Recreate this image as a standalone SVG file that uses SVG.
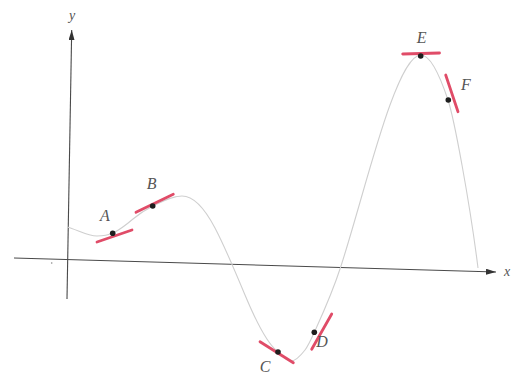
<svg xmlns="http://www.w3.org/2000/svg" width="516" height="380" viewBox="0 0 516 380">
  <style>
    .axis { stroke: #4a4a4a; stroke-width: 1.1; fill: none; }
    .curve { stroke: #cfcfcf; stroke-width: 1.1; fill: none; }
    .tan { stroke: #e04c68; stroke-width: 2.8; stroke-linecap: round; }
    .dot { fill: #1e1e1e; }
    .lbl { font-family: "Liberation Serif", "DejaVu Serif", serif; font-style: italic; font-size: 16px; fill: #555; text-anchor: middle; }
    .albl { font-family: "Liberation Serif", "DejaVu Serif", serif; font-style: italic; font-size: 14px; fill: #555; text-anchor: middle; }
  </style>
  <defs>
    <marker id="arr" markerWidth="10" markerHeight="6" refX="10" refY="3" orient="auto" markerUnits="userSpaceOnUse">
      <path d="M0,0 L10,3 L0,6 Z" fill="#333"/>
    </marker>
  </defs>
  <rect width="516" height="380" fill="#ffffff"/>

  <g id="connectors">
    <line class="axis" x1="14" y1="258" x2="496" y2="272" marker-end="url(#arr)"/>
    <line class="axis" x1="67" y1="299" x2="71.7" y2="30" marker-end="url(#arr)"/>
    <path class="curve" d="M67,227 C77,229.5 87,236 97,236 C102.3,236 107.7,235.4 113,233 C119.7,230 126.3,224.7 133,219 C139.7,213.3 146.3,209.3 153,206 C162.7,201.2 172.3,196 182,196 C193,196 204,207.1 215,228 C225,247 235,271 245,295 C255.7,320.6 266.3,342.5 277,351 C281.7,354.7 286.3,361 291,361 C295.7,361 300.3,356.1 305,350 C308,346.1 311,339.6 314,333 C323,313.2 332,293.9 341,266 C357.3,215.4 373.7,149.1 390,105 C400.3,77.1 410.7,55 421,55 C430,55 439,73 448,100 C452.7,114 457.3,139.3 462,165 C467.3,194.3 472.7,225.3 478,268"/>
  </g>

  <g id="axis-labels">
    <text class="albl" x="72" y="20">y</text>
    <text class="albl" x="507" y="276">x</text>
    <circle cx="51.7" cy="263" r="0.8" fill="#888"/>
  </g>

  <g id="A">
    <line class="tan" x1="97" y1="242" x2="132" y2="230"/>
    <circle class="dot" cx="112.7" cy="233.3" r="2.8"/>
    <text class="lbl" x="105" y="221">A</text>
  </g>
  <g id="B">
    <line class="tan" x1="136" y1="212.3" x2="173.3" y2="194.3"/>
    <circle class="dot" cx="152.7" cy="206" r="2.8"/>
    <text class="lbl" x="151.7" y="189">B</text>
  </g>
  <g id="C">
    <line class="tan" x1="260" y1="341.7" x2="293.3" y2="362.7"/>
    <circle class="dot" cx="278" cy="352" r="2.8"/>
    <text class="lbl" x="265" y="372">C</text>
  </g>
  <g id="D">
    <line class="tan" x1="311.7" y1="349.3" x2="331.7" y2="314"/>
    <circle class="dot" cx="314.3" cy="332.3" r="2.8"/>
    <text class="lbl" x="322" y="347">D</text>
  </g>
  <g id="E">
    <line class="tan" x1="402.7" y1="54" x2="439.5" y2="53"/>
    <circle class="dot" cx="420.7" cy="56" r="2.8"/>
    <text class="lbl" x="421.7" y="43">E</text>
  </g>
  <g id="F">
    <line class="tan" x1="445.7" y1="75" x2="458" y2="111.7"/>
    <circle class="dot" cx="448.3" cy="100" r="2.8"/>
    <text class="lbl" x="466" y="90">F</text>
  </g>
</svg>
